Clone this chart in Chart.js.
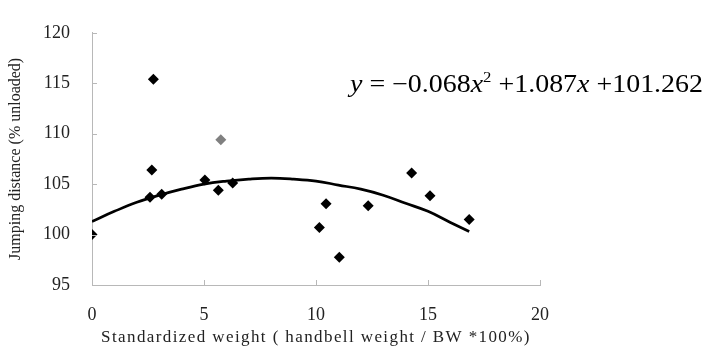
<!DOCTYPE html>
<html>
<head>
<meta charset="utf-8">
<script src="https://cdn.jsdelivr.net/npm/chart.js@4"></script>
<style>
  html, body { margin: 0; padding: 0; background: #fff; }
  #wrap { width: 705px; height: 353px; }
</style>
</head>
<body>
<div id="wrap"><canvas id="myChart"></canvas></div>
<script>
// measured points (standardized weight, jumping distance)
const weightX = [0, 2.74, 2.67, 2.59, 3.11, 5.04, 5.64, 6.28, 10.15, 10.45, 11.04, 12.33, 14.27, 15.09, 16.84];
const distanceY = [100, 115.4, 106.4, 103.7, 104.0, 105.4, 104.4, 105.1, 100.7, 103.05, 97.75, 102.85, 106.1, 103.85, 101.5];
// the grey point
const greyX = [5.75];
const greyY = [109.4];
// trend line
const trendX = [0, 1, 2, 3, 4, 5, 6, 7, 8, 9, 10, 11, 12, 13, 14, 15, 16, 16.84];
const trendY = [101.3, 102.3, 103.2, 103.9, 104.5, 105.0, 105.3, 105.5, 105.6, 105.5, 105.3, 104.9, 104.5, 103.9, 103.1, 102.3, 101.2, 100.3];

const xTicks = [0, 5, 10, 15, 20];
const yTicks = [95, 100, 105, 110, 115, 120];

const xTitle = 'Standardized weight ( handbell weight / BW *100%)';
const yTitle = 'Jumping distance (% unloaded)';

const toPoints = (xs, ys) => xs.map((x, i) => ({ x: x, y: ys[i] }));

const serif = "'Liberation Serif', 'Times New Roman', serif";
const axisColor = '#b8b8b8';
const textColor = '#222';

// small inward tick marks + the spaced-out x title
const axisExtras = {
    id: 'axisExtras',
    afterDraw(chart) {
        const { ctx, scales: { x, y } } = chart;
        ctx.save();
        ctx.strokeStyle = axisColor;
        ctx.lineWidth = 1;
        ctx.beginPath();
        xTicks.forEach(v => {
            const px = Math.round(x.getPixelForValue(v)) + 0.5;
            ctx.moveTo(px, y.bottom);
            ctx.lineTo(px, y.bottom - 5);
        });
        yTicks.forEach(v => {
            const py = Math.round(y.getPixelForValue(v)) + 0.5;
            ctx.moveTo(x.left, py);
            ctx.lineTo(x.left + 5, py);
        });
        ctx.stroke();

        ctx.font = `17px ${serif}`;
        ctx.fillStyle = textColor;
        ctx.textAlign = 'center';
        ctx.textBaseline = 'middle';
        if ('letterSpacing' in ctx) ctx.letterSpacing = '1.4px';
        ctx.fillText(xTitle, (x.left + x.right) / 2, 338);
        ctx.restore();
    }
};

// regression equation text
const equation = {
    id: 'equation',
    afterDraw(chart) {
        const ctx = chart.ctx;
        const size = 25;
        const parts = [
            ['y', 'italic'],
            [' = \u22120.068', ''],
            ['x', 'italic'],
            ['2', 'sup'],
            [' +1.087', ''],
            ['x', 'italic'],
            [' +101.262', '']
        ];
        const setFont = (style) => {
            ctx.font = style === 'sup'
                ? `${Math.round(size * 0.6)}px ${serif}`
                : `${style} ${size}px ${serif}`;
        };
        ctx.save();
        let total = 0;
        parts.forEach(([txt, style]) => { setFont(style); total += ctx.measureText(txt).width; });
        const left = 350, right = 703;
        const sx = (right - left) / total;
        const base = 92;
        ctx.translate(left, 0);
        ctx.scale(sx, 1);
        ctx.fillStyle = '#000';
        ctx.textBaseline = 'alphabetic';
        let cx = 0;
        parts.forEach(([txt, style]) => {
            setFont(style);
            ctx.fillText(txt, cx, style === 'sup' ? base - size * 0.42 : base);
            cx += ctx.measureText(txt).width;
        });
        ctx.restore();
    }
};

const config = {
    type: 'scatter',
    data: {
        datasets: [
            {
                label: 'trend',
                type: 'line',
                data: toPoints(trendX, trendY),
                borderColor: '#000',
                borderWidth: 2.7,
                pointRadius: 0,
                tension: 0.4,
                fill: false
            },
            {
                label: 'points',
                data: toPoints(weightX, distanceY),
                pointStyle: 'rectRot',
                pointRadius: 5.5,
                backgroundColor: '#000',
                borderColor: '#000',
                borderWidth: 0
            },
            {
                label: 'grey',
                data: toPoints(greyX, greyY),
                pointStyle: 'rectRot',
                pointRadius: 5.5,
                backgroundColor: '#808080',
                borderColor: '#808080',
                borderWidth: 0
            }
        ]
    },
    options: {
        responsive: true,
        maintainAspectRatio: false,
        animation: false,
        layout: { padding: { left: 0, right: 165, top: 21, bottom: 0 } },
        plugins: {
            legend: { display: false },
            tooltip: { enabled: false }
        },
        scales: {
            x: {
                type: 'linear',
                min: 0,
                max: 20,
                afterBuildTicks: (s) => { s.ticks = xTicks.map(v => ({ value: v })); },
                afterFit: (s) => { s.height = 68; },
                grid: { display: true, drawOnChartArea: false, drawTicks: false, color: axisColor },
                border: { display: true, color: axisColor, width: 1 },
                ticks: {
                    padding: 19,
                    color: textColor,
                    font: { family: serif, size: 18 }
                },
                title: { display: false }
            },
            y: {
                type: 'linear',
                min: 95,
                max: 120,
                afterBuildTicks: (s) => { s.ticks = yTicks.map(v => ({ value: v })); },
                afterFit: (s) => { s.width = 92; },
                grid: { display: true, drawOnChartArea: false, drawTicks: false, color: axisColor },
                border: { display: true, color: axisColor, width: 1 },
                ticks: {
                    padding: 22,
                    color: textColor,
                    font: { family: serif, size: 18 }
                },
                title: {
                    display: true,
                    text: yTitle,
                    color: textColor,
                    font: { family: serif, size: 16 },
                    padding: { top: 6, bottom: 0 }
                }
            }
        }
    },
    plugins: [axisExtras, equation]
};

new Chart(document.getElementById('myChart').getContext('2d'), config);
</script>
</body>
</html>
